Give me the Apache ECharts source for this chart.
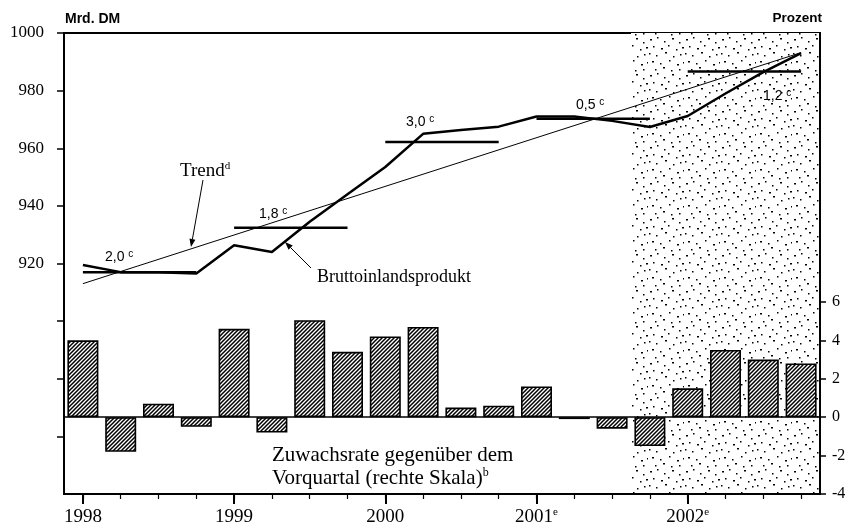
<!DOCTYPE html>
<html>
<head>
<meta charset="utf-8">
<script src="https://cdn.jsdelivr.net/npm/echarts@6/dist/echarts.min.js"></script>
<style>
html,body{margin:0;padding:0;background:#fff;}
#chart{width:859px;height:529px;}
</style>
</head>
<body>
<div id="chart"></div>
<script>
// ---------- data ----------
const quarters = ['1998Q1','1998Q2','1998Q3','1998Q4','1999Q1','1999Q2','1999Q3','1999Q4',
                  '2000Q1','2000Q2','2000Q3','2000Q4','2001Q1','2001Q2','2001Q3','2001Q4',
                  '2002Q1','2002Q2','2002Q3','2002Q4'];
const yearMarks = {'1998':'','1999':'','2000':'','2001':'e','2002':'e'};
// Bruttoinlandsprodukt, Mrd. DM
const gdp = [919.5, 917.0, 917.0, 916.5, 926.3, 924.0, 934.5, 944.0,
             953.5, 965.0, 966.3, 967.5, 971.0, 971.0, 969.5, 967.4,
             971.2, 979.0, 986.4, 993.0];
// Zuwachsrate gegenüber dem Vorquartal, Prozent (rechte Skala)
const growth = [4.0, -1.8, 0.7, -0.5, 4.6, -0.8, 5.05, 3.4,
                4.2, 4.7, 0.5, 0.6, 1.6, -0.1, -0.6, -1.5,
                1.5, 3.5, 3.0, 2.8];
// Trend (first and last quarter)
const trendEnds = [913.0, 993.2];
// annual averages (Mrd. DM) and growth labels
const avgValues = [917.0, 932.4, 962.2, 970.2, 986.6];
const avgLabels = ['2,0', '1,8', '3,0', '0,5', '1,2'];
const leftTickValues = [860, 880, 900, 920, 940, 960, 980, 1000];
const leftLabelValues = [920, 940, 960, 980, 1000];
const rightTickValues = [-4, -2, 0, 2, 4, 6];
const forecastStartIndex = 15; // 2001Q4 onwards shaded

// ---------- patterns ----------
function hatchPattern() {
  const c = document.createElement('canvas');
  c.width = 4; c.height = 4;
  const g = c.getContext('2d');
  g.fillStyle = '#fff'; g.fillRect(0, 0, 4, 4);
  g.strokeStyle = '#000'; g.lineWidth = 1.5;
  g.beginPath();
  g.moveTo(-1, 5); g.lineTo(5, -1);
  g.moveTo(-1, 1); g.lineTo(1, -1);
  g.moveTo(3, 5); g.lineTo(5, 3);
  g.stroke();
  return c;
}
function dotPattern() {
  const c = document.createElement('canvas');
  c.width = 36; c.height = 36;
  const g = c.getContext('2d');
  g.fillStyle = '#fff'; g.fillRect(0, 0, 36, 36);
  g.fillStyle = '#000';
  const dots = [[2,3],[9,1],[16,5],[24,2],[31,6],[5,10],[13,12],[20,9],[28,13],[34,11],
                [1,17],[8,19],[17,16],[25,20],[32,18],[4,25],[12,27],[21,24],[29,28],[35,26],
                [7,33],[15,31],[23,34],[31,33]];
  dots.forEach(function (d, k) { g.fillRect(d[0], d[1], k % 3 === 0 ? 2 : 1.5, 1.5); });
  return c;
}

const chart = echarts.init(document.getElementById('chart'), null, {renderer: 'canvas'});
const serif = '"Liberation Serif", "DejaVu Serif", serif';
const sans = '"Liberation Sans", Arial, sans-serif';

const avgSeries = avgValues.map(function (v, k) {
  return {
    type: 'line', xAxisIndex: 0, yAxisIndex: 0, symbol: 'none', silent: true, z: 4,
    lineStyle: {color: '#000', width: 2.5},
    data: [[4 * k + 0.5, v], [4 * k + 3.5, v]]
  };
});

const option = {
  animation: false,
  backgroundColor: '#fff',
  grid: {left: 64, right: 39, top: 33, bottom: 35, show: true, borderColor: '#000', borderWidth: 2, backgroundColor: 'transparent'},
  xAxis: [
    {type: 'value', min: 0, max: 20, show: false},
    {
      type: 'category', data: quarters, position: 'bottom', boundaryGap: true, z: 5,
      axisLine: {show: true, lineStyle: {color: '#000', width: 2}},
      axisTick: {show: true, alignWithLabel: true, interval: 0, length: 5, lineStyle: {color: '#000', width: 1.2}},
      axisLabel: {
        interval: function (i) { return i % 4 === 0; },
        margin: 13, color: '#000',
        formatter: function (val) {
          const y = val.slice(0, 4);
          return '{y|' + y + '}' + (yearMarks[y] ? '{s|' + yearMarks[y] + '}' : '');
        },
        rich: {
          y: {fontFamily: serif, fontSize: 19, color: '#000', lineHeight: 20},
          s: {fontFamily: serif, fontSize: 11, color: '#000', verticalAlign: 'top', lineHeight: 11}
        }
      },
      splitLine: {show: false}
    },
    {
      type: 'category', data: quarters, position: 'bottom', boundaryGap: true, z: 5,
      axisLine: {show: false},
      axisTick: {show: true, alignWithLabel: true, interval: function (i) { return i % 4 === 0; }, length: 10, lineStyle: {color: '#000', width: 2}},
      axisLabel: {show: false},
      splitLine: {show: false}
    }
  ],
  yAxis: [
    {
      type: 'value', min: 840, max: 1000, interval: 20, position: 'left', z: 5,
      axisLine: {show: true, lineStyle: {color: '#000', width: 2}},
      axisTick: {show: true, length: 7, customValues: leftTickValues, lineStyle: {color: '#000', width: 1.5}},
      axisLabel: {customValues: leftLabelValues, margin: 20, color: '#000', fontFamily: serif, fontSize: 17,
        formatter: function (v) { return v >= 920 ? String(v) : ''; }},
      splitLine: {show: false}
    },
    {
      type: 'value', min: -4, max: 20, interval: 2, position: 'right', z: 5,
      axisLine: {show: true, lineStyle: {color: '#000', width: 2}},
      axisTick: {show: true, length: 6, customValues: rightTickValues, lineStyle: {color: '#000', width: 1.5}},
      axisLabel: {customValues: rightTickValues, margin: 12, color: '#000', fontFamily: serif, fontSize: 16,
        formatter: function (v) { return v <= 6 ? String(v) : ''; }},
      splitLine: {show: false}
    }
  ],
  series: [
    {
      name: 'Zuwachsrate', type: 'bar', xAxisIndex: 0, yAxisIndex: 1, barWidth: 31, z: 2,
      data: growth.map(function (v, i) { return [i + 0.5, v]; }),
      itemStyle: {color: {image: hatchPattern(), repeat: 'repeat'}, borderColor: '#000', borderWidth: 1.6},
      markArea: {
        silent: true, z: 1,
        itemStyle: {color: {image: dotPattern(), repeat: 'repeat'}},
        data: [[{xAxis: forecastStartIndex}, {xAxis: quarters.length}]]
      },
      markLine: {
        silent: true, symbol: ['none', 'none'], z: 3,
        lineStyle: {color: '#000', width: 1.5, type: 'solid'},
        label: {show: false},
        data: [{yAxis: 0}]
      }
    },
    {
      name: 'Trend', type: 'line', xAxisIndex: 0, yAxisIndex: 0, symbol: 'none', silent: true, z: 4,
      lineStyle: {color: '#000', width: 1},
      data: [[0.5, trendEnds[0]], [quarters.length - 0.5, trendEnds[1]]]
    },
    {
      name: 'Bruttoinlandsprodukt', type: 'line', xAxisIndex: 0, yAxisIndex: 0, symbol: 'none', silent: true, z: 5,
      lineStyle: {color: '#000', width: 2.5},
      data: gdp.map(function (v, i) { return [i + 0.5, v]; })
    }
  ].concat(avgSeries)
};
chart.setOption(option);

// ---------- annotations ----------
function txt(x, y, text, rich, font) {
  return {type: 'text', x: x, y: y, z: 20, silent: true,
    style: {text: text, rich: rich, font: font, fill: '#000', align: 'left', verticalAlign: 'middle'}};
}
function arrow(x1, y1, x2, y2) {
  const dx = x2 - x1, dy = y2 - y1, L = Math.sqrt(dx * dx + dy * dy);
  const ux = dx / L, uy = dy / L, hl = 8, hw = 3;
  const bx = x2 - ux * hl, by = y2 - uy * hl;
  return [
    {type: 'line', z: 20, silent: true, shape: {x1: x1, y1: y1, x2: bx, y2: by}, style: {stroke: '#000', lineWidth: 1}},
    {type: 'polygon', z: 20, silent: true, shape: {points: [[x2, y2], [bx - uy * hw, by + ux * hw], [bx + uy * hw, by - ux * hw]]}, style: {fill: '#000'}}
  ];
}
const pctRich = {
  n: {fontFamily: sans, fontSize: 14, fill: '#000', color: '#000', lineHeight: 16},
  s: {fontFamily: sans, fontSize: 10, fill: '#000', color: '#000', verticalAlign: 'top', lineHeight: 10}
};
const supRich = {
  n: {fontFamily: serif, fontSize: 19, fill: '#000', color: '#000', lineHeight: 20},
  s: {fontFamily: serif, fontSize: 11, fill: '#000', color: '#000', verticalAlign: 'top', lineHeight: 11}
};
const pctPos = [[105, 257], [259, 214], [406, 122], [576, 105], [763, 96]];
const graphics = [
  txt(65, 19, 'Mrd. DM', null, 'bold 14px ' + sans),
  {type: 'text', x: 822, y: 18, z: 20, silent: true, style: {text: 'Prozent', font: 'bold 13.5px ' + sans, fill: '#000', align: 'right', verticalAlign: 'middle'}},
  txt(180, 171, '{n|Trend}{s|d}', supRich, '19px ' + serif),
  txt(317, 277, 'Bruttoinlandsprodukt', null, '18px ' + serif),
  txt(272, 455, 'Zuwachsrate gegenüber dem', null, '21px ' + serif),
  txt(272, 478, '{n|Vorquartal (rechte Skala)}{s|b}', {
    n: {fontFamily: serif, fontSize: 21, fill: '#000', color: '#000', lineHeight: 22},
    s: {fontFamily: serif, fontSize: 12, fill: '#000', color: '#000', verticalAlign: 'top', lineHeight: 12}
  }, '21px ' + serif)
];
avgLabels.forEach(function (l, k) {
  graphics.push(txt(pctPos[k][0], pctPos[k][1], '{n|' + l + '} {s|c}', pctRich, '14px ' + sans));
});
arrow(203, 180, 191, 247).forEach(function (e) { graphics.push(e); });
arrow(311, 268, 285, 242).forEach(function (e) { graphics.push(e); });
chart.setOption({graphic: graphics});
</script>
</body>
</html>
